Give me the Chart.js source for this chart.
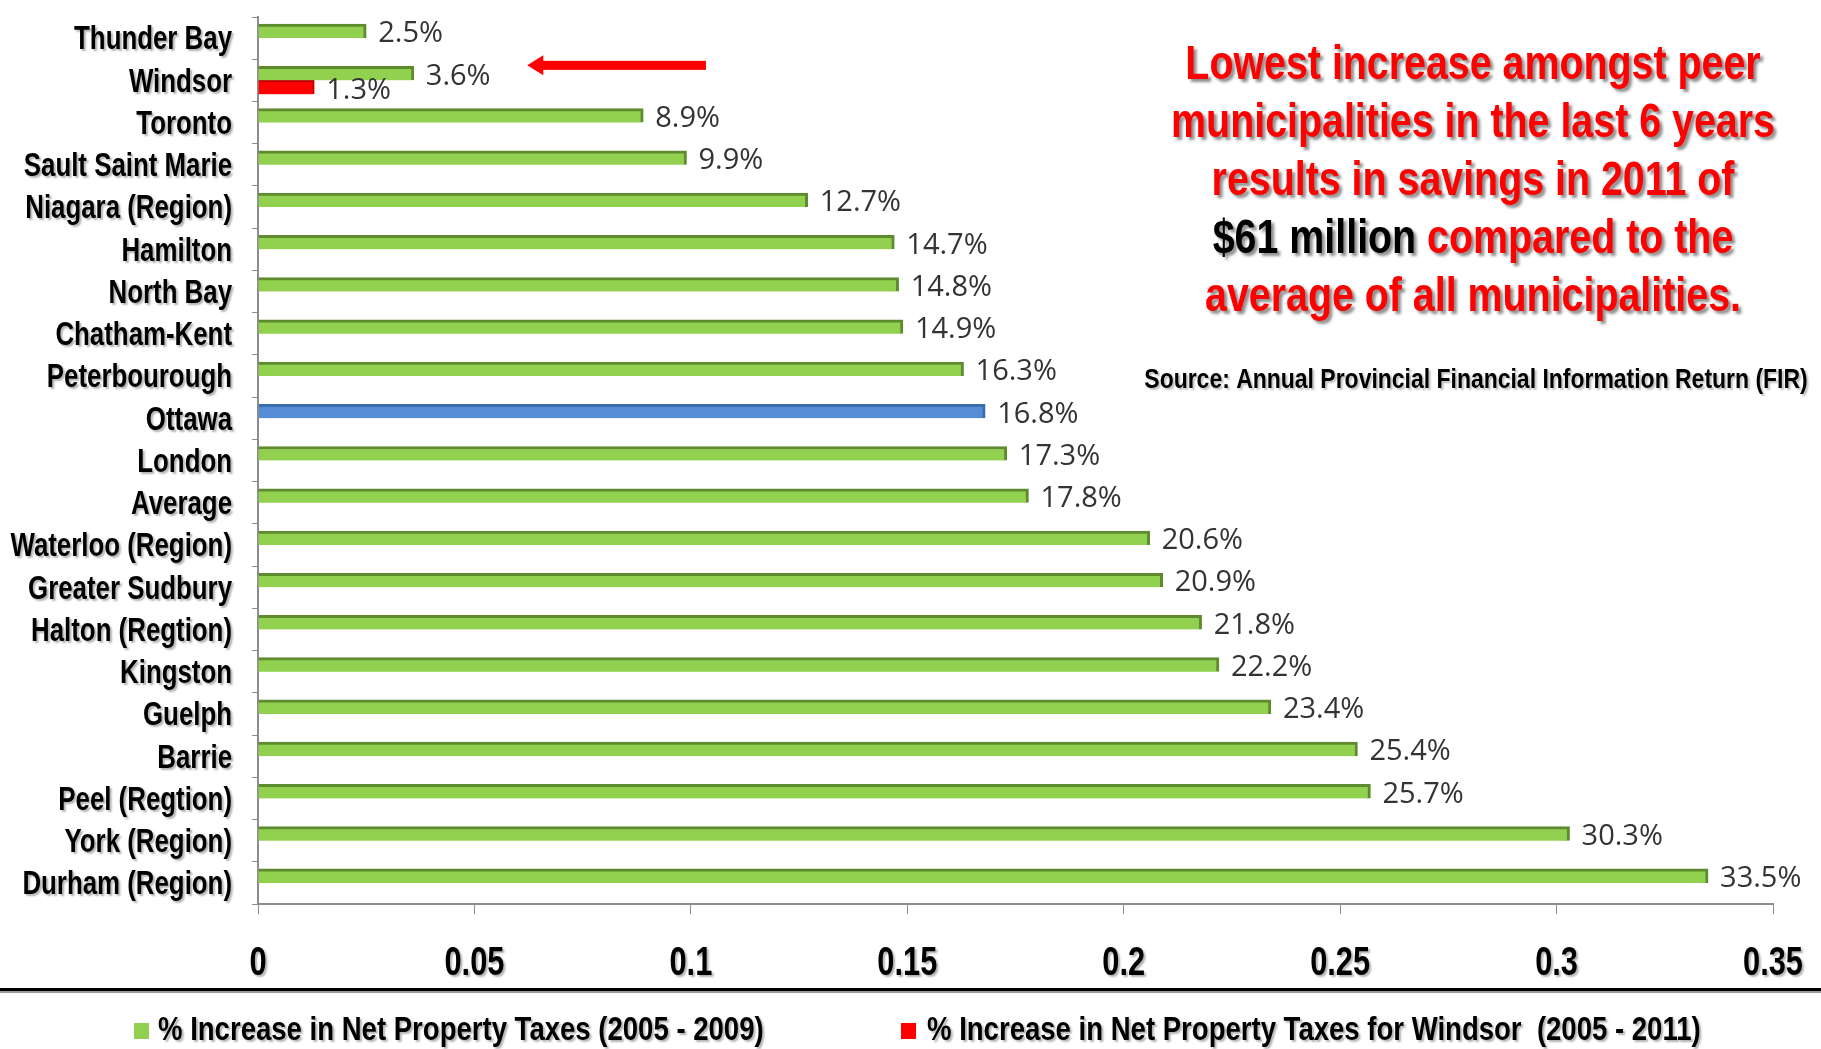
<!DOCTYPE html>
<html>
<head>
<meta charset="utf-8">
<script src="https://cdn.jsdelivr.net/npm/chart.js@4.4.0/dist/chart.umd.min.js"></script>
<style>
  html, body { margin: 0; padding: 0; background: #fff; }
  #wrap { width: 1821px; height: 1049px; }
</style>
</head>
<body>
<div id="wrap"><canvas id="tax-chart" width="1821" height="1049"></canvas></div>
<script>
// no narrow font installed, so Arial-metric bold gets squeezed horizontally
const BOLD = "'Liberation Sans', Arial, sans-serif";

const municipalities = ["Thunder Bay", "Windsor", "Toronto", "Sault Saint Marie", "Niagara (Region)", "Hamilton",
    "North Bay", "Chatham-Kent", "Peterbourough", "Ottawa", "London", "Average", "Waterloo (Region)",
    "Greater Sudbury", "Halton (Regtion)", "Kingston", "Guelph", "Barrie", "Peel (Regtion)", "York (Region)",
    "Durham (Region)"];
const increase2005to2009 = [0.025, 0.036, 0.089, 0.099, 0.127, 0.147, 0.148, 0.149, 0.163, 0.168, 0.173, 0.178,
    0.206, 0.209, 0.218, 0.222, 0.234, 0.254, 0.257, 0.303, 0.335];
const windsor2005to2011 = [null, 0.013, null, null, null, null, null, null, null, null, null, null,
    null, null, null, null, null, null, null, null, null];
const xTickLabels = ["0", "0.05", "0.1", "0.15", "0.2", "0.25", "0.3", "0.35"];
const legendLabels = ["% Increase in Net Property Taxes (2005 - 2009)", "% Increase in Net Property Taxes for Windsor  (2005 - 2011)"];
const calloutLines = ["Lowest increase amongst peer", "municipalities in the last 6 years", "results in savings in 2011 of"];
const calloutHighlight = "$61 million";
const calloutRest = [" compared to the", "average of all municipalities."];
const sourceNote = "Source: Annual Provincial Financial Information Return (FIR)";

const GREEN = "#92D050", GREEN_DARK = "#5F8B2F";
const BLUE = "#558ED5", BLUE_DARK = "#3A6DAE";
const RED = "#FF0000";

// Ottawa gets the blue bar
const greenColors = municipalities.map(m => m === "Ottawa" ? BLUE : GREEN);
const greenBorders = municipalities.map(m => m === "Ottawa" ? BLUE_DARK : GREEN_DARK);

// draw text squeezed horizontally by sx, returns drawn width
function squeezed(ctx, text, x, y, align, sx) {
    const w = ctx.measureText(text).width * sx;
    const left = align === "center" ? x - w / 2 : align === "right" ? x - w : x;
    ctx.save();
    ctx.translate(left, y);
    ctx.scale(sx, 1);
    ctx.textAlign = "left";
    ctx.fillText(text, 0, 0);
    ctx.restore();
    return w;
}

function softShadow(ctx, a) {
    ctx.shadowColor = "rgba(0,0,0," + a + ")";
    ctx.shadowOffsetX = 2;
    ctx.shadowOffsetY = 2;
    ctx.shadowBlur = 2;
}

const extras = {
    id: "extras",
    afterDatasetsDraw(chart) {
        const ctx = chart.ctx;
        ctx.save();
        ctx.font = "29px 'Open Sans', sans-serif";
        ctx.fillStyle = "#333";
        ctx.textBaseline = "middle";
        chart.data.datasets.forEach((ds, di) => {
            chart.getDatasetMeta(di).data.forEach((bar, i) => {
                const v = ds.data[i];
                if (v === null) return;
                squeezed(ctx, (v * 100).toFixed(1) + "%", bar.x + 12, bar.y + 3, "left", 1);
            });
        });
        ctx.restore();
    },
    afterDraw(chart) {
        const ctx = chart.ctx;
        const xs = chart.scales.x, ys = chart.scales.y;
        ctx.save();
        ctx.textBaseline = "middle";

        // category labels
        ctx.fillStyle = "#000";
        ctx.font = "bold 34px " + BOLD;
        softShadow(ctx, 0.3);
        municipalities.forEach((m, i) => squeezed(ctx, m, 232, ys.getPixelForValue(i) + 2, "right", 0.76));

        // value axis labels
        ctx.font = "bold 40px " + BOLD;
        xTickLabels.forEach(t => squeezed(ctx, t, xs.getPixelForValue(Number(t)), xs.top + 60, "center", 0.77));
        ctx.shadowColor = "transparent";

        // arrow pointing at Windsor
        const ay = ys.getPixelForValue(1) - 15;
        const tip = xs.getPixelForValue(0.0622), tail = xs.getPixelForValue(0.1035);
        ctx.fillStyle = RED;
        ctx.fillRect(tip + 14, ay - 4.5, tail - tip - 14, 9);
        ctx.beginPath();
        ctx.moveTo(tip, ay);
        ctx.lineTo(tip + 16, ay - 10);
        ctx.lineTo(tip + 16, ay + 10);
        ctx.closePath();
        ctx.fill();

        // callout text
        const cx = 1473;
        ctx.font = "bold 48px " + BOLD;
        ctx.shadowColor = "rgba(0,0,0,0.45)";
        ctx.shadowOffsetX = 3;
        ctx.shadowOffsetY = 3;
        ctx.shadowBlur = 3;
        ctx.fillStyle = RED;
        calloutLines.forEach((t, i) => squeezed(ctx, t, cx, 66 + i * 58, "center", 0.82));
        const w1 = ctx.measureText(calloutHighlight).width * 0.82;
        const w2 = ctx.measureText(calloutRest[0]).width * 0.82;
        const lx = cx - (w1 + w2) / 2;
        ctx.fillStyle = "#000";
        squeezed(ctx, calloutHighlight, lx, 66 + 3 * 58, "left", 0.82);
        ctx.fillStyle = RED;
        squeezed(ctx, calloutRest[0], lx + w1, 66 + 3 * 58, "left", 0.82);
        squeezed(ctx, calloutRest[1], cx, 66 + 4 * 58, "center", 0.82);

        ctx.font = "bold 28px " + BOLD;
        ctx.fillStyle = "#000";
        softShadow(ctx, 0.25);
        squeezed(ctx, sourceNote, 1476, 380, "center", 0.82);
        ctx.shadowColor = "transparent";

        // separator line
        ctx.fillStyle = "#999";
        ctx.fillRect(0, 991, 1821, 2);
        ctx.fillStyle = "#000";
        ctx.fillRect(0, 988, 1821, 3);

        // legend
        ctx.font = "bold 34px " + BOLD;
        const ly = 1031;
        ctx.fillStyle = GREEN;
        ctx.fillRect(134, ly - 8, 15, 16);
        ctx.fillStyle = RED;
        ctx.fillRect(901, ly - 8, 15, 16);
        ctx.fillStyle = "#000";
        softShadow(ctx, 0.3);
        squeezed(ctx, legendLabels[0], 158, ly, "left", 0.81);
        squeezed(ctx, legendLabels[1], 927, ly, "left", 0.81);
        ctx.restore();
    }
};

const chart = new Chart(document.getElementById("tax-chart").getContext("2d"), {
    type: "bar",
    data: {
        labels: municipalities,
        datasets: [{
            label: legendLabels[0],
            data: increase2005to2009,
            backgroundColor: greenColors,
            borderColor: greenBorders,
            borderWidth: {top: 3, right: 3, bottom: 0, left: 0},
            borderSkipped: false,
            barThickness: 14,
        }, {
            label: legendLabels[1],
            data: windsor2005to2011,
            backgroundColor: RED,
            borderColor: "#C00000",
            borderWidth: {top: 2, right: 2, bottom: 0, left: 0},
            borderSkipped: false,
            barThickness: 14,
        }]
    },
    options: {
        indexAxis: "y",
        responsive: false,
        animation: false,
        layout: {padding: {top: 17, right: 48, bottom: 58, left: 0}},
        plugins: {legend: {display: false}, tooltip: {enabled: false}},
        scales: {
            x: {
                min: 0, max: 0.35,
                afterFit: (scale) => { scale.height = 87; },
                ticks: {stepSize: 0.05, display: false},
                grid: {drawOnChartArea: false, tickLength: 10, color: "#8c8c8c"},
                border: {color: "#8c8c8c", width: 2},
            },
            y: {
                afterFit: (scale) => { scale.width = 258; },
                ticks: {display: false},
                grid: {drawOnChartArea: false, offset: true, tickLength: 6, color: "#8c8c8c"},
                border: {color: "#8c8c8c", width: 2},
            },
        },
    },
    plugins: [extras],
});
</script>
</body>
</html>
